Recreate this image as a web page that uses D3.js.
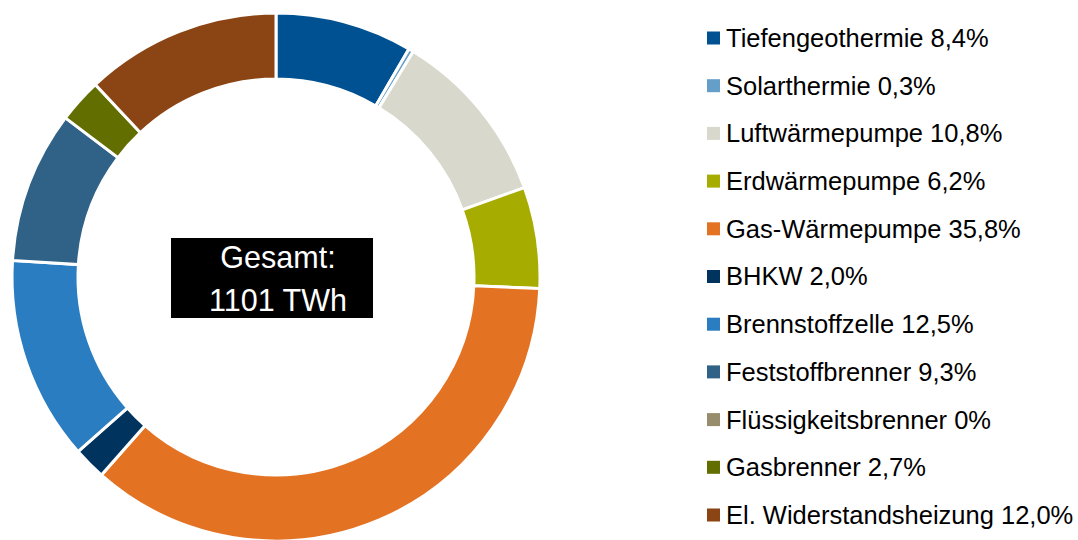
<!DOCTYPE html>
<html>
<head>
<meta charset="utf-8">
<script src="https://cdn.jsdelivr.net/npm/d3@7/dist/d3.min.js"></script>
<style>
  html, body { margin: 0; padding: 0; background: #fff; }
  svg { display: block; font-family: "Liberation Sans", Arial, sans-serif; }
</style>
</head>
<body>
<svg id="chart" width="1078" height="540"></svg>
<script>
// Wärmebereitstellung nach Technologie (Anteile in %)
const categories = [
  "Tiefengeothermie", "Solarthermie", "Luftwärmepumpe", "Erdwärmepumpe",
  "Gas-Wärmepumpe", "BHKW", "Brennstoffzelle", "Feststoffbrenner",
  "Flüssigkeitsbrenner", "Gasbrenner", "El. Widerstandsheizung"
];
const shares = [8.4, 0.3, 10.8, 6.2, 35.8, 2.0, 12.5, 9.3, 0, 2.7, 12.0];
const shareLabels = ["8,4%", "0,3%", "10,8%", "6,2%", "35,8%", "2,0%", "12,5%", "9,3%", "0%", "2,7%", "12,0%"];
const colors = [
  "#005191", "#659fc9", "#d9d8cc", "#a6ad00", "#e37222", "#00335e",
  "#2a7dc0", "#306187", "#978c6b", "#636e00", "#8b4414"
];
const totalLines = ["Gesamt:", "1101 TWh"];

const svg = d3.select("#chart");
const data = categories.map((c, i) => ({ name: c, value: shares[i], label: shareLabels[i], color: colors[i] }));

// Ring
const cx = 276, cy = 277, outerR = 264, innerR = 198;
const pie = d3.pie().value(d => d.value).sort(null);
const arc = d3.arc().innerRadius(innerR).outerRadius(outerR);

const g = svg.append("g").attr("transform", `translate(${cx},${cy})`);
g.selectAll("path")
  .data(pie(data).filter(d => d.data.value > 0))
  .join("path")
  .attr("d", arc)
  .attr("fill", d => d.data.color)
  .attr("stroke", "#fff")
  .attr("stroke-width", 3)
  .attr("stroke-linejoin", "miter");

// Total box in the centre
const box = svg.append("g");
box.append("rect")
  .attr("x", 171).attr("y", 238)
  .attr("width", 202).attr("height", 80)
  .attr("fill", "#000");
box.selectAll("text")
  .data(totalLines)
  .join("text")
  .attr("x", 278)
  .attr("y", (d, i) => 268 + i * 43)
  .attr("text-anchor", "middle")
  .attr("fill", "#fff")
  .attr("font-size", 30.5)
  .text(d => d);

// Legend
const legendX = 707, legendY0 = 38, legendStep = 47.7;
const legend = svg.append("g");
const items = legend.selectAll("g")
  .data(data)
  .join("g")
  .attr("transform", (d, i) => `translate(${legendX},${legendY0 + i * legendStep})`);
items.append("rect")
  .attr("x", 0).attr("y", -6.5)
  .attr("width", 13).attr("height", 13)
  .attr("fill", d => d.color);
items.append("text")
  .attr("x", 19)
  .attr("y", 0)
  .attr("dy", "0.35em")
  .attr("font-size", 25.5)
  .attr("fill", "#000")
  .text(d => `${d.name} ${d.label}`);
</script>
</body>
</html>
